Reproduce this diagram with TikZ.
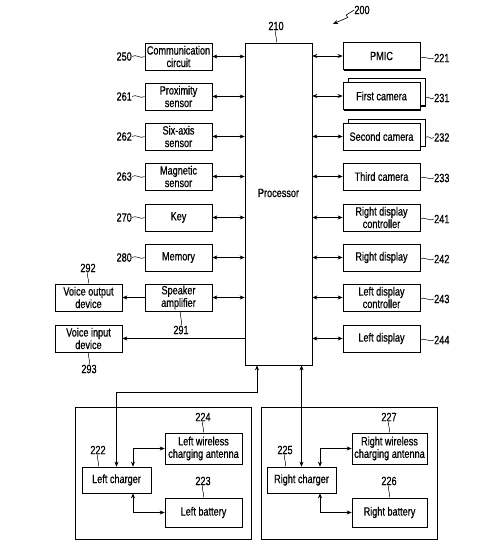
\documentclass[tikz,border=0pt]{standalone}
\usepackage{fontspec}
\setmainfont[FakeStretch=0.76,FakeBold=0.6]{Liberation Sans}
\usetikzlibrary{shadows,arrows.meta,calc}
\newcommand\hw[2]{\draw[wig] (#1) .. controls +(4,-3) and +(-4,3) .. (#2);}
\newcommand\vw[2]{\draw[wig] (#1) .. controls +(-2.5,3) and +(2.5,-3) .. (#2);}
\begin{document}
\begin{tikzpicture}[x=1pt,y=-1pt,
  font=\fontsize{12}{12.5}\selectfont,
  box/.style={draw, line width=0.7pt, fill=white, inner sep=0pt, align=center,
    drop shadow={shadow xshift=1.4pt, shadow yshift=-1.4pt, fill=black, opacity=1}},
  lbox/.style={box, minimum width=67pt, minimum height=27pt},
  rbox/.style={box, minimum width=77pt, minimum height=27pt},
  dbl/.style={{Stealth[length=5pt,width=4pt]}-{Stealth[length=5pt,width=4pt]}, line width=0.6pt},
  arr/.style={-{Stealth[length=5pt,width=4pt]}, line width=0.6pt},
  num/.style={inner sep=0pt},
  wig/.style={line width=0.5pt},
  grp/.style={draw, line width=0.6pt}]
\useasboundingbox (0,0) rectangle (502,553);

% processor
\node[box, minimum width=67pt, minimum height=322pt] (proc) at (278.5,204) {};
\node (ptxt) at ($(proc.center)+(0,-11)$) {Processor};
\node[num] (l210) at (276,26) {210};
\vw{l210.south}{l210.south |- proc.north}

% 200
\node[num] (l200) at (362,10) {200};
\coordinate (p200) at (333,24);
\draw[arr] (l200.west) -- ++(-8,5) -- ++(1.5,2.5) -- (p200);

% left column
\node[lbox] (comm) at (178.5,56.5) {Communication\\circuit};
\node[lbox] (prox) at (178.5,96.5) {Proximity\\sensor};
\node[lbox] (six)  at (178.5,136.5) {Six-axis\\sensor};
\node[lbox] (mag)  at (178.5,176.5) {Magnetic\\sensor};
\node[lbox] (key)  at (178.5,217.5) {Key};
\node[lbox] (mem)  at (178.5,257.5) {Memory};
\node[lbox] (spk)  at (178.5,297.5) {Speaker\\amplifier};
\node[lbox] (vout) at (88.5,297.5) {Voice output\\device};
\node[lbox] (vin)  at (88.5,338.5) {Voice input\\device};

\foreach \n/\t/\y in {comm/250/56.5, prox/261/96.5, six/262/136.5, mag/263/176.5, key/270/217.5, mem/280/257.5}{
  \node[num, anchor=east] (l\t) at (132,\y) {\t};
  \hw{l\t.east}{\n.west}
  \draw[dbl] (\n.east) -- (\n.east -| proc.west);
}
\draw[dbl] (spk.east) -- (spk.east -| proc.west);
\draw[arr] (spk.west) -- (vout.east);
\draw[arr] (vin.east -| proc.west) -- (vin.east);

\node[num] (l292) at (88,268) {292};
\vw{l292.south}{l292.south |- vout.north}
\node[num] (l291) at (181,330) {291};
\vw{spk.south -| l291}{l291.north}
\node[num] (l293) at (89,369) {293};
\vw{vin.south -| l293}{l293.north}

% right column
\node[rbox] (pmic) at (381.5,56) {PMIC};
\node[rbox] (cam1b) at (386.5,92) {};
\node[rbox] (cam1) at (381.5,96) {First camera};
\node[rbox] (cam2b) at (386.5,132.5) {};
\node[rbox] (cam2) at (381.5,136.5) {Second camera};
\node[rbox] (cam3) at (381.5,176.5) {Third camera};
\node[rbox] (rdc) at (381.5,217.5) {Right display\\controller};
\node[rbox] (rd)  at (381.5,257.5) {Right display};
\node[rbox] (ldc) at (381.5,297.5) {Left display\\controller};
\node[rbox] (ld)  at (381.5,338.5) {Left display};

\foreach \n/\t/\y in {pmic/221/58, cam1/231/98, cam2/232/137.5, cam3/233/178, rdc/241/219, rd/242/259, ldc/243/299, ld/244/340}{
  \draw[dbl] (\n.west) -- (\n.west -| proc.east);
  \node[num, anchor=west] (l\t) at (434,\y) {\t};
}
\foreach \n/\t in {pmic/221, cam1b/231, cam2b/232, cam3/233, rdc/241, rd/242, ldc/243, ld/244}{
  \hw{\n.east |- l\t.west}{l\t.west}
}

% bottom groups
\node[grp, minimum width=176pt, minimum height=132pt, inner sep=0pt] (gl) at (163,473) {};
\node[grp, minimum width=176pt, minimum height=132pt, inner sep=0pt] (gr) at (349,473) {};

\node[box, minimum width=69pt, minimum height=26pt] (lc) at (116.5,480) {Left charger};
\node[box, minimum width=77pt, minimum height=31pt] (lwa) at (203.5,448.5) {Left wireless\\charging antenna};
\node[box, minimum width=77pt, minimum height=29pt] (lb) at (203.5,512.5) {Left battery};
\node[box, minimum width=69pt, minimum height=26pt] (rc) at (301.5,480) {Right charger};
\node[box, minimum width=75pt, minimum height=31pt] (rwa) at (389.5,448.5) {Right wireless\\charging antenna};
\node[box, minimum width=75pt, minimum height=29pt] (rb) at (389.5,512.5) {Right battery};

\node[num] (l222) at (98,450) {222};
\vw{l222.south}{l222.south |- lc.north}
\node[num] (l224) at (203,417) {224};
\vw{l224.south}{l224.south |- lwa.north}
\node[num] (l223) at (203,481) {223};
\vw{l223.south}{l223.south |- lb.north}
\node[num] (l225) at (285,450) {225};
\vw{l225.south}{l225.south |- rc.north}
\node[num] (l227) at (389,417) {227};
\vw{l227.south}{l227.south |- rwa.north}
\node[num] (l226) at (389,481) {226};
\vw{l226.south}{l226.south |- rb.north}

\coordinate (pl) at (257,392);
\coordinate (jl) at (133,0);
\coordinate (jr) at (320,0);
\draw[dbl] (proc.south -| pl) -- (pl) -- (pl -| lc.north) -- (lc.north);
\draw[dbl] (proc.south -| rc.north) -- (rc.north);
\draw[dbl] (lc.north -| jl) |- (lwa.west);
\draw[dbl] (lc.south -| jl) |- (lb.west);
\draw[dbl] (rc.north -| jr) |- (rwa.west);
\draw[dbl] (rc.south -| jr) |- (rb.west);
\end{tikzpicture}
\end{document}
